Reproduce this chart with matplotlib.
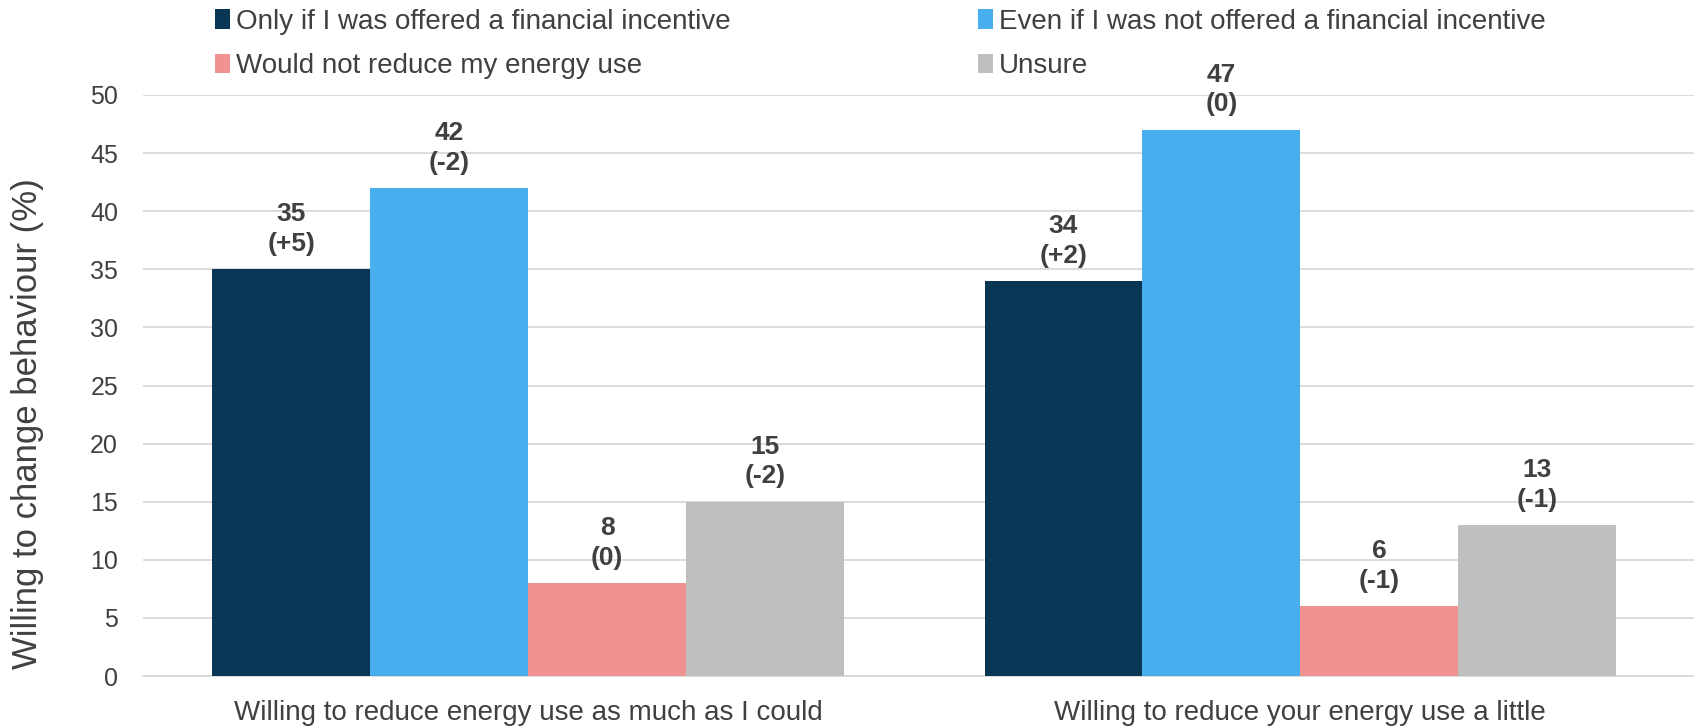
import matplotlib.pyplot as plt
import numpy as np

plt.rcParams['font.family'] = ['Liberation Sans', 'DejaVu Sans']

categories = ['Willing to reduce energy use as much as I could',
              'Willing to reduce your energy use a little']
series = ['Only if I was offered a financial incentive',
          'Even if I was not offered a financial incentive',
          'Would not reduce my energy use',
          'Unsure']
values = [[35, 34], [42, 47], [8, 6], [15, 13]]
changes = [['+5', '+2'], ['-2', '0'], ['0', '-1'], ['-2', '-1']]
colors = ['#083654', '#48AEEE', '#F09292', '#BFBFBF']
txt = '#404040'

fig = plt.figure(figsize=(16.94, 7.26), dpi=100)
ax = fig.add_axes([143/1694, 50/726, (1694-143)/1694, (676-95)/726])

x = np.arange(len(categories))
w = 0.2045
bars = []
for i in range(len(series)):
    pos = x + (i - 1.5) * w
    b = ax.bar(pos, values[i], width=w, color=colors[i], label=series[i], zorder=3)
    bars.append(b)
    for j, p in enumerate(pos):
        ax.text(p, values[i][j] + 1.15, '%d\n(%s)' % (values[i][j], changes[i][j]),
                ha='center', va='bottom', fontsize=19, fontweight='bold', color=txt,
                linespacing=1.3, zorder=4)

ax.set_ylim(0, 50)
ax.set_yticks(range(0, 51, 5))
ax.set_xlim(-0.499, 1.51)
ax.set_xticks(x)
ax.set_xticklabels(categories)
ax.tick_params(axis='both', length=0, labelsize=18, colors=txt)
ax.tick_params(axis='x', pad=17, labelsize=20)
ax.tick_params(axis='y', pad=18)
ax.grid(axis='y', color='#D9D9D9', linewidth=1.3, zorder=0)
for s in ['top', 'right', 'left']:
    ax.spines[s].set_visible(False)
ax.spines['bottom'].set_color('#D9D9D9')
ax.spines['bottom'].set_linewidth(1.3)
ax.set_ylabel('Willing to change behaviour (%)', fontsize=25, color=txt, labelpad=33)
ax.yaxis.label.set_y(0.435)

handles = [bars[0], bars[2], bars[1], bars[3]]
labels = [series[0], series[2], series[1], series[3]]
leg = fig.legend(handles, labels, ncol=2, loc='upper left',
                 bbox_to_anchor=(204/1694, 1.003), frameon=False, fontsize=20,
                 handlelength=0.55, handleheight=0.7, handletextpad=0.2,
                 columnspacing=8.9, labelspacing=0.65, borderaxespad=0.0)
for t in leg.get_texts():
    t.set_color(txt)

fig.savefig('out.png', dpi=100)
